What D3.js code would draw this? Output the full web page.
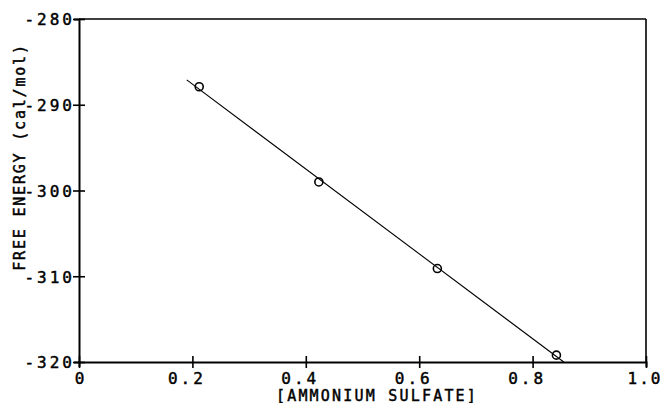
<!DOCTYPE html>
<html><head><meta charset="utf-8">
<script src="https://cdn.jsdelivr.net/npm/d3@7"></script>
<style>
body{margin:0;background:#fff;}
text{font-family:"DejaVu Sans Mono",monospace;fill:#000;stroke:#000;stroke-width:0.45px;}
</style></head>
<body><svg id="c" width="665" height="403"></svg>
<script>
const pointX = [0.212, 0.423, 0.632, 0.842];
const pointY = [-287.9, -299.0, -309.1, -319.2];
const fitX = [0.19, 0.855];
const fitY = [-287.1, -320.0];
const xTicks = [0, 0.2, 0.4, 0.6, 0.8, 1.0];
const xTickLabels = ["0", "0.2", "0.4", "0.6", "0.8", "1.0"];
const yTicks = [-280, -290, -300, -310, -320];
const xTitle = "[AMMONIUM SULFATE]";
const yTitle = "FREE ENERGY (cal/mol)";

const svg = d3.select("#c");
const L = 79, R = 646, T = 19, B = 362;
const x = d3.scaleLinear().domain([0, 1]).range([L, R]);
const y = d3.scaleLinear().domain([-320, -280]).range([B, T]);

// frame
svg.append("line").attr("x1", R).attr("x2", R).attr("y1", T).attr("y2", B).attr("stroke", "#000").attr("stroke-width", 1.6);
svg.append("line").attr("x1", L).attr("x2", R).attr("y1", T).attr("y2", T).attr("stroke", "#000").attr("stroke-width", 1.6);

const xAxis = d3.axisBottom(x).tickValues(xTicks).tickSize(5).tickFormat((d, i) => xTickLabels[i]);
const gx = svg.append("g").attr("transform", `translate(0,${B})`).call(xAxis);
gx.attr("font-family", null).attr("font-size", null);
gx.select(".domain").attr("stroke-width", 2);
gx.selectAll(".tick line").attr("y1", -6).attr("y2", 6).attr("stroke-width", 1.6);
gx.selectAll(".tick text").attr("x", d => d === 0 ? 1.5 : (d === 1 ? -1.5 : -6)).attr("y", 11).attr("dy", "0.71em")
  .style("font-size", "16px").style("letter-spacing", d => d === 1 ? "2px" : "3px");

const yAxis = d3.axisLeft(y).tickValues(yTicks).tickSize(5);
const gy = svg.append("g").attr("transform", `translate(${L},0)`).call(yAxis);
gy.attr("font-family", null).attr("font-size", null);
gy.select(".domain").attr("stroke-width", 2);
gy.selectAll(".tick line").attr("x1", -6).attr("x2", 6).attr("stroke-width", 1.6);
gy.selectAll(".tick text").text(d => String(d)).attr("x", -4).attr("dy", "0.36em")
  .style("font-size", "16px").style("letter-spacing", "3px");

// fit line
svg.append("path").datum(fitX.map((d, i) => [d, fitY[i]]))
  .attr("d", d3.line().x(d => x(d[0])).y(d => y(d[1])))
  .attr("fill", "none").attr("stroke", "#000").attr("stroke-width", 1.1);

// points
svg.selectAll("circle.pt").data(pointX.map((d, i) => [d, pointY[i]])).enter()
  .append("circle").attr("class", "pt")
  .attr("cx", d => x(d[0])).attr("cy", d => y(d[1])).attr("r", 4)
  .attr("fill", "none").attr("stroke", "#000").attr("stroke-width", 1.6);

// titles
svg.append("text").attr("x", 377).attr("y", 400.5).attr("text-anchor", "middle")
  .style("font-size", "15px").style("letter-spacing", "2.2px").text(xTitle);
svg.append("text").attr("transform", `translate(25,157) rotate(-90)`).attr("text-anchor", "middle")
  .style("font-size", "15px").style("letter-spacing", "1.8px").text(yTitle);
</script></body></html>
